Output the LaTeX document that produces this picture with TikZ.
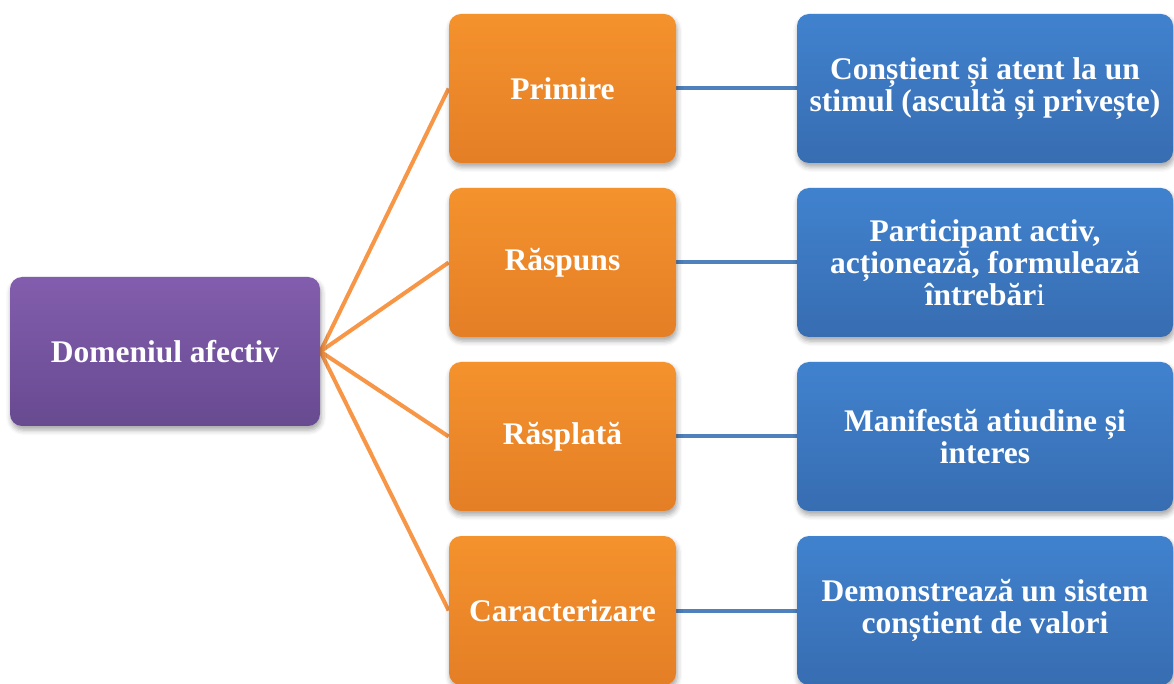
\documentclass[tikz,border=0pt]{standalone}
\usepackage{fontspec}
\setmainfont{Liberation Serif}
\usetikzlibrary{shadows.blur,backgrounds}

% box colours (top highlight, top, bottom)
\definecolor{puHi}{HTML}{B08FD8}
\definecolor{puTop}{HTML}{8A63B6}
\definecolor{puBot}{HTML}{5E4386}
\definecolor{orHi}{HTML}{FDB866}
\definecolor{orTop}{HTML}{F9982F}
\definecolor{orBot}{HTML}{DE7723}
\definecolor{blHi}{HTML}{6FA6E6}
\definecolor{blTop}{HTML}{4388D7}
\definecolor{blBot}{HTML}{3465A6}
% connector colours
\definecolor{orLine}{HTML}{F79646}
\definecolor{blLine}{HTML}{4F81BD}

\pgfdeclareverticalshading{purpleglass}{100bp}{color(0bp)=(puBot); color(6bp)=(puBot); color(90bp)=(puTop); color(95bp)=(puTop); color(100bp)=(puHi)}
\pgfdeclareverticalshading{orangeglass}{100bp}{color(0bp)=(orBot); color(6bp)=(orBot); color(90bp)=(orTop); color(95bp)=(orTop); color(100bp)=(orHi)}
\pgfdeclareverticalshading{blueglass}{100bp}{color(0bp)=(blBot); color(6bp)=(blBot); color(90bp)=(blTop); color(95bp)=(blTop); color(100bp)=(blHi)}

\begin{document}
\begin{tikzpicture}[x=0.5pt,y=-0.5pt,
  basebox/.style={rounded corners=6pt, minimum height=74.5pt, inner sep=0pt,
    align=center, text=white,
    font=\fontsize{15.75}{16}\selectfont\bfseries,
    blur shadow={shadow xshift=0.6pt, shadow yshift=-2pt, shadow blur radius=2.5pt, shadow opacity=35}},
  rootbox/.style={basebox, minimum width=155pt, shading=purpleglass},
  levelbox/.style={basebox, minimum width=113.5pt, shading=orangeglass},
  descbox/.style={basebox, minimum width=188pt, shading=blueglass},
  orangelink/.style={draw=orLine, line width=2pt},
  bluelink/.style={draw=blLine, line width=2pt}]

\useasboundingbox (0,0) rectangle (1174,684);

% root
\node[rootbox] (root) at (165,351.5) {Domeniul afectiv};

% levels
\node[levelbox] (primire) at (562.5,88.5)  {Primire};
\node[levelbox] (raspuns) at (562.5,262.5) {Răspuns};
\node[levelbox] (rasplata) at (562.5,436.5) {Răsplată};
\node[levelbox] (caract) at (562.5,610.5) {Caracterizare};

% descriptions
\node[descbox] (d1) at (985,88.5)  {Conștient și atent la un\\stimul (ascultă și privește)};
\node[descbox] (d2) at (985,262.5) {Participant activ,\\acționează, formulează\\întrebăr{\mdseries i}};
\node[descbox] (d3) at (985,436.5) {Manifestă atiudine și\\interes};
\node[descbox] (d4) at (985,610.5) {Demonstrează un sistem\\conștient de valori};

\begin{scope}[on background layer]
  \foreach \n in {primire,raspuns,rasplata,caract}
    \draw[orangelink] (root.east) -- (\n.west);
  \draw[bluelink] (primire.east) -- (d1.west);
  \draw[bluelink] (raspuns.east) -- (d2.west);
  \draw[bluelink] (rasplata.east) -- (d3.west);
  \draw[bluelink] (caract.east) -- (d4.west);
\end{scope}
\end{tikzpicture}
\end{document}
